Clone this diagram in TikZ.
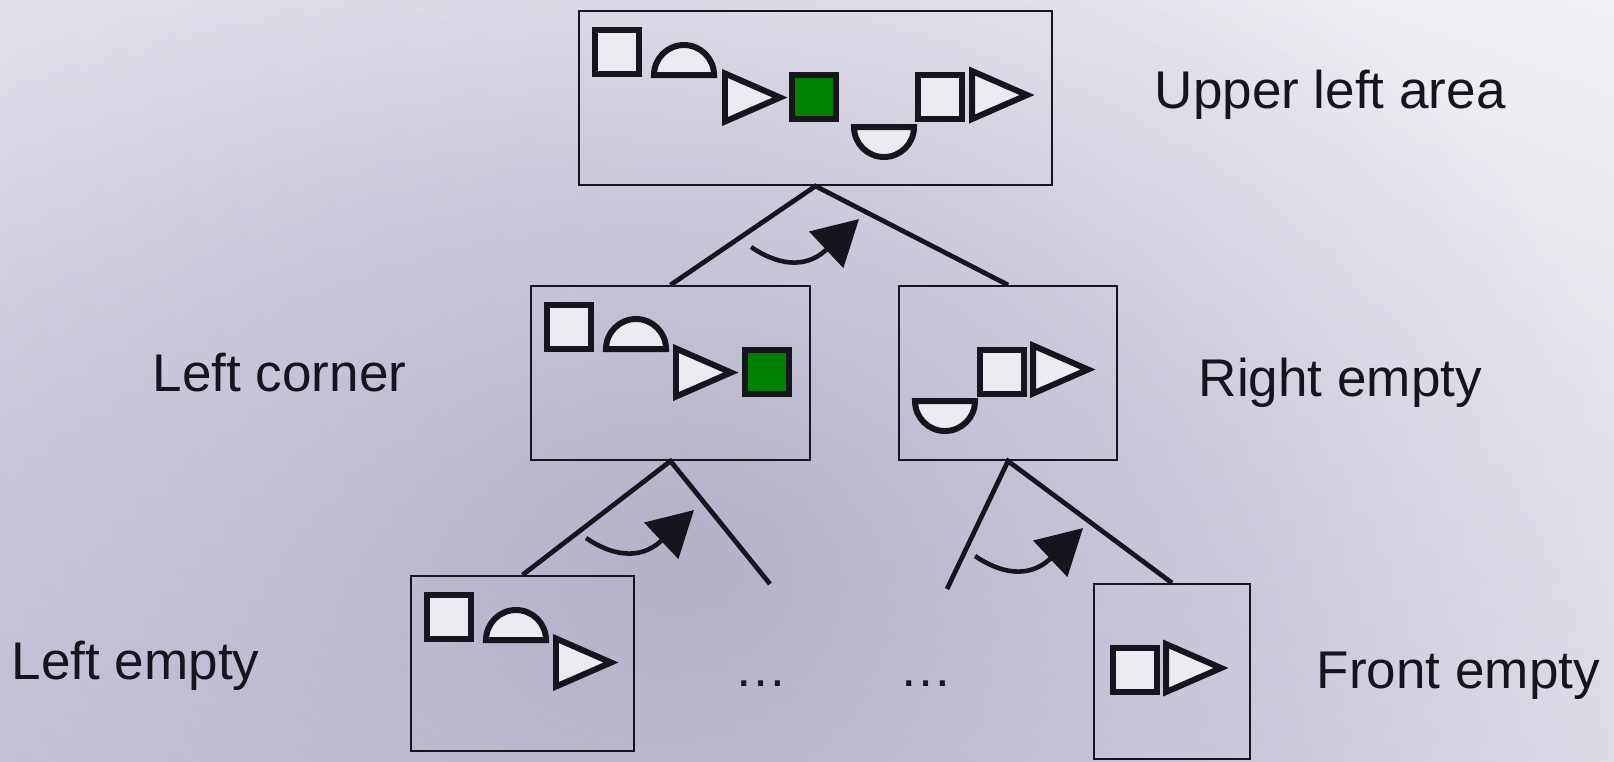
\documentclass[tikz,border=0pt]{standalone}
\usepackage{fontspec}
\setmainfont{Liberation Sans}
\usepackage{xcolor}
\usepackage{tikz}
\usetikzlibrary{arrows.meta,fadings,shadings}

\definecolor{ink}{HTML}{15151D}
\definecolor{paper}{HTML}{ECEBF2}
\definecolor{goalgreen}{HTML}{008000}
\definecolor{skyA}{HTML}{E1E0EA}
\definecolor{skyB}{HTML}{F0EFF4}
\definecolor{skyC}{HTML}{C8C6D8}
\definecolor{skyD}{HTML}{DCDBE6}
\definecolor{dusk}{HTML}{A8A6C1}

\tikzfading[name=soft spot, inner color=transparent!25, outer color=transparent!100]

\begin{document}
\begin{tikzpicture}[
		piece/.style={draw=ink, fill=paper, line width=1.7pt},
		box/.style={draw=ink, line width=0.6pt, inner sep=0pt, minimum height=1.74cm},
		link/.style={draw=ink, line width=1.35pt},
		turn/.style={draw=ink, line width=1.3pt, -{Triangle[length=0.45cm,width=0.49cm]}},
		lbl/.style={anchor=base west, inner sep=0pt, text=ink, font=\fontsize{15.1}{18}\selectfont},
		block/.pic={\path[piece] (-0.22,-0.22) rectangle (0.22,0.22);},
		goal/.pic={\path[piece, fill=goalgreen] (-0.22,-0.22) rectangle (0.22,0.22);},
		dome/.pic={\path[piece] (-0.30,0) arc[start angle=180, end angle=0, radius=0.30] -- cycle;},
		bowl/.pic={\path[piece] (-0.30,0) arc[start angle=180, end angle=360, radius=0.30] -- cycle;},
		wedge/.pic={\path[piece] (0.005,0.24) -- (0.555,0) -- (0.005,-0.24) -- cycle;}
	]
		\useasboundingbox (0,0) rectangle (16.14,-7.61);

		% background
		\begin{scope}
			\clip (0,0) rectangle (16.14,-7.61);
			\shade[upper left=skyA, upper right=skyB, lower left=skyC, lower right=skyD] (0,0) rectangle (16.14,-7.61);
			\fill[dusk, path fading=soft spot] (6.9,-5.6) ellipse (9.5 and 7.5);
		\end{scope}

		% the search tree
		\node[box, minimum width=4.73cm] (upper) at (8.155,-0.98) {};
		\node[box, minimum width=2.79cm] (corner) at (6.705,-3.73) {};
		\node[box, minimum width=2.18cm] (rempty) at (10.08,-3.73) {};
		\node[box, minimum width=2.23cm, minimum height=1.75cm] (lempty) at (5.225,-6.635) {};
		\node[box, minimum width=1.56cm, minimum height=1.75cm] (fempty) at (11.72,-6.715) {};
		\coordinate (gapL) at (7.70,-5.84);
		\coordinate (gapR) at (9.47,-5.89);

		\draw[link] (corner.north) -- (upper.south) -- (rempty.north);
		\draw[link] (lempty.north) -- (corner.south) -- (gapL);
		\draw[link] (gapR) -- (rempty.south) -- (fempty.north);

		% turning arrows
		\foreach \sx/\sy in {7.51/-2.47, 5.86/-5.38, 9.75/-5.56}
			\draw[turn, shift={(\sx,\sy)}] (0,0) .. controls (0.25,-0.17) and (0.53,-0.23) .. (0.75,-0.03) -- (1.08,0.28);

		% pieces
		\pic at (6.17,-0.515) {block};
		\pic at (6.84,-0.75) {dome};
		\pic at (7.245,-0.975) {wedge};
		\pic at (8.14,-0.97) {goal};
		\pic at (8.84,-1.27) {bowl};
		\pic at (9.40,-0.97) {block};
		\pic at (9.715,-0.95) {wedge};

		\pic at (5.69,-3.265) {block};
		\pic at (6.36,-3.49) {dome};
		\pic at (6.755,-3.725) {wedge};
		\pic at (7.67,-3.72) {goal};

		\pic at (9.45,-4.01) {bowl};
		\pic at (10.015,-3.72) {block};
		\pic at (10.325,-3.695) {wedge};

		\pic at (4.49,-6.17) {block};
		\pic at (5.16,-6.40) {dome};
		\pic at (5.555,-6.625) {wedge};

		\pic at (11.35,-6.70) {block};
		\pic at (11.655,-6.68) {wedge};

		% labels
		\node[lbl] (upperlbl) at (11.54,-1.08) {Upper left area};
		\node[lbl] (cornerlbl) at (1.52,-3.91) {Left corner};
		\node[lbl] (remptylbl) at (11.98,-3.96) {Right empty};
		\node[lbl] (lemptylbl) at (0.11,-6.79) {Left empty};
		\node[lbl] (femptylbl) at (13.16,-6.88) {Front empty};
		\node[lbl, anchor=base] (dotsL) at (7.61,-6.86) {…};
		\node[lbl, anchor=base] (dotsR) at (9.26,-6.86) {…};
	\end{tikzpicture}
\end{document}
